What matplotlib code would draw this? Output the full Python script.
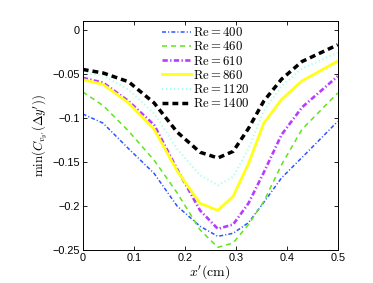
import matplotlib
matplotlib.use("Agg")
import matplotlib.pyplot as plt

plt.rcParams['mathtext.fontset'] = 'cm'
plt.rcParams['font.family'] = ['Liberation Sans', 'DejaVu Sans']
plt.rcParams['axes.unicode_minus'] = True

x = [0, 0.04, 0.09, 0.14, 0.185, 0.23, 0.265, 0.295, 0.325, 0.355, 0.39, 0.43, 0.5]

re_labels = ["400", "460", "610", "860", "1120", "1400"]
re400 = [-0.0955, -0.106, -0.135, -0.163, -0.200, -0.223, -0.2345, -0.231, -0.219, -0.196, -0.168, -0.145, -0.104]
re460 = [-0.0705, -0.086, -0.115, -0.148, -0.185, -0.227, -0.247, -0.242, -0.221, -0.195, -0.153, -0.113, -0.0716]
re610 = [-0.0545, -0.060, -0.081, -0.108, -0.158, -0.205, -0.226, -0.221, -0.197, -0.162, -0.119, -0.088, -0.0527]
re860 = [-0.0565, -0.062, -0.083, -0.113, -0.160, -0.197, -0.205, -0.189, -0.152, -0.106, -0.079, -0.058, -0.0356]
re1120 = [-0.048, -0.052, -0.068, -0.095, -0.135, -0.165, -0.1765, -0.167, -0.135, -0.092, -0.064, -0.044, -0.026]
re1400 = [-0.045, -0.049, -0.059, -0.083, -0.116, -0.139, -0.1455, -0.138, -0.112, -0.081, -0.056, -0.036, -0.017]

series = [re400, re460, re610, re860, re1120, re1400]
styles = [
    dict(color='#2b55ff', lw=1.1, dashes=(2.6, 1.4, 0.7, 1.4)),
    dict(color='#5ee61a', lw=1.1, dashes=(3.3, 2.6)),
    dict(color='#b63cff', lw=1.9, dashes=(2.0, 0.9, 0.5, 0.9)),
    dict(color='#ffff1a', lw=2.0, ls='-'),
    dict(color='#a8fff0', lw=1.5, dashes=(0.6, 1.3)),
    dict(color='#000000', lw=2.5, dashes=(1.7, 1.15)),
]

fig = plt.figure(figsize=(3.73, 2.83), dpi=100)
ax = fig.add_axes([0.2217, 0.1166, 0.6837, 0.8092])

for lab, ys, st in zip(re_labels, series, styles):
    ax.plot(x, ys, label=r'$\mathrm{Re} = %s$' % lab, **st)

ax.set_xlim(0, 0.5)
ax.set_ylim(-0.25, 0.01)
ax.set_xticks([0, 0.1, 0.2, 0.3, 0.4, 0.5])
ax.set_xticklabels(['0', '0.1', '0.2', '0.3', '0.4', '0.5'])
ax.set_yticks([0, -0.05, -0.1, -0.15, -0.2, -0.25])
ax.set_yticklabels(['0', '\u22120.05', '\u22120.1', '\u22120.15', '\u22120.2', '\u22120.25'])
ax.tick_params(direction='in', top=True, right=True, labelsize=7.8, length=3, width=0.6, pad=2)
for sp in ax.spines.values():
    sp.set_linewidth(0.7)

ax.set_xlabel(r"$x'(\mathrm{cm})$", fontsize=10, labelpad=0)
ax.set_ylabel(r"$\mathrm{min}(C_{v_{y'}}(\Delta y'))$", fontsize=9.2, labelpad=2)

leg = ax.legend(loc='upper left', bbox_to_anchor=(162 / 373, 1 - 26 / 283), bbox_transform=fig.transFigure,
                frameon=False, fontsize=9.2, handlelength=2.3, handletextpad=0.15,
                labelspacing=0.1, borderpad=0, borderaxespad=0)

fig.savefig('out.png', dpi=100)
